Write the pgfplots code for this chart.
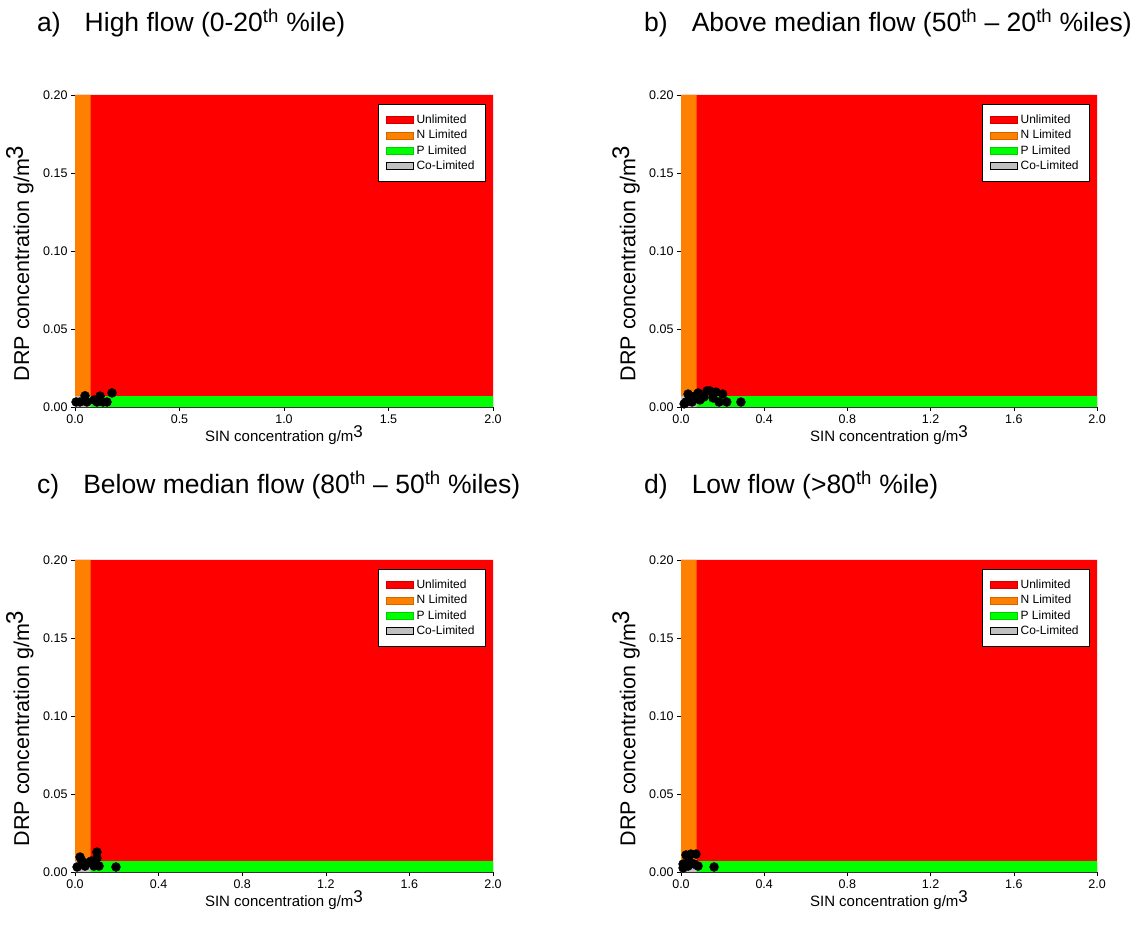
\documentclass[border=0pt]{standalone}
\usepackage{pgfplots}
\pgfplotsset{compat=1.18}
\usepackage{fontspec}
\setmainfont{Liberation Sans}
\definecolor{unl}{RGB}{255,0,0}
\definecolor{nlim}{RGB}{255,128,0}
\definecolor{plim}{RGB}{0,255,0}
\definecolor{colim}{RGB}{192,192,192}
\pgfplotsset{
  patch/.style={legend image code/.code={\draw[##1] (0pt,-3.5pt) rectangle (27pt,3.5pt);}},
  panel/.style={
    scale only axis, height=312pt,
    xmin=0, xmax=2, ymin=0, ymax=0.2,
    axis x line*=bottom, axis y line*=left,
    axis line style={-, black!80, line width=0.6pt},
    tick align=outside, major tick length=4pt,
    tick style={black, line width=0.6pt},
    ytick={0,0.05,0.1,0.15,0.2},
    /pgf/number format/assume math mode=true,
    yticklabel style={/pgf/number format/.cd, fixed, fixed zerofill, precision=2},
    xticklabel style={/pgf/number format/.cd, fixed, fixed zerofill, precision=1},
    tick label style={font=\fontsize{12.5}{14}\selectfont},
    xlabel={SIN concentration g/m\raisebox{0.55ex}{\fontsize{17}{17}\selectfont 3}},
    ylabel={DRP concentration g/m\raisebox{0.55ex}{\fontsize{24}{24}\selectfont 3}},
    xlabel style={at={(axis description cs:0.5,-0.09)}, anchor=center, font=\fontsize{15}{17}\selectfont},
    ylabel style={at={(axis description cs:-0.132,0.46)}, anchor=center, font=\fontsize{21.5}{23}\selectfont},
    legend style={at={(1,1)}, anchor=north east, xshift=-7pt, yshift=-9pt,
      font=\fontsize{12}{13}\selectfont, draw=black, line width=0.8pt,
      inner xsep=8pt, inner ysep=10pt, row sep=4.2pt,
      nodes={inner xsep=3pt, inner ysep=0.5pt}},
    legend cell align=left,
  },
}
\newcommand{\regions}{%
  \addplot[fill=unl, draw=none, forget plot] coordinates {(0,0) (2,0) (2,0.2) (0,0.2) (0,0)};
  \addplot[fill=nlim, draw=none, forget plot] coordinates {(0,0) (0.075,0) (0.075,0.2) (0,0.2) (0,0)};
  \addplot[fill=plim, draw=none, forget plot] coordinates {(0,0) (2,0) (2,0.007) (0,0.007) (0,0)};
  \addplot[fill=colim, draw=none, forget plot] coordinates {(0,0) (0.075,0) (0.075,0.007) (0,0.007) (0,0)};
  \addlegendimage{patch, fill=unl, draw=unl!80!black, line width=0.4pt}
  \addlegendentry{Unlimited}
  \addlegendimage{patch, fill=nlim, draw=nlim!80!black, line width=0.4pt}
  \addlegendentry{N Limited}
  \addlegendimage{patch, fill=plim, draw=plim!80!black, line width=0.4pt}
  \addlegendentry{P Limited}
  \addlegendimage{patch, fill=colim, draw=black, line width=0.6pt}
  \addlegendentry{Co-Limited}
}
\pgfplotstableread{
x y
0.005 0.0032
0.024 0.0032
0.048 0.0072
0.057 0.0032
0.091 0.0045
0.105 0.0032
0.120 0.0070
0.134 0.0032
0.153 0.0032
0.177 0.0090
}\dataA
\pgfplotstableread{
x y
0.015 0.0020
0.024 0.0032
0.043 0.0058
0.034 0.0083
0.053 0.0032
0.067 0.0070
0.082 0.0090
0.091 0.0045
0.110 0.0064
0.125 0.0103
0.139 0.0103
0.154 0.0058
0.168 0.0096
0.183 0.0032
0.200 0.0083
0.220 0.0032
0.288 0.0032
}\dataB
\pgfplotstableread{
x y
0.010 0.0032
0.024 0.0096
0.033 0.0070
0.048 0.0038
0.062 0.0058
0.077 0.0070
0.091 0.0038
0.105 0.0090
0.105 0.0128
0.115 0.0038
0.196 0.0032
}\dataC
\pgfplotstableread{
x y
0.010 0.0051
0.010 0.0026
0.024 0.0109
0.038 0.0077
0.048 0.0115
0.072 0.0115
0.063 0.0051
0.082 0.0038
0.034 0.0038
0.159 0.0032
}\dataD
\begin{document}
\begin{tikzpicture}
\useasboundingbox (0,0) rectangle (1142pt,928pt);
\begin{axis}[panel, width=418pt, at={(75pt,521pt)}, anchor=south west,
  xtick={0,0.5,1,1.5,2}]
  \regions
  \addplot[only marks, mark=*, mark size=4.5pt, black, forget plot] table {\dataA};
\end{axis}
\begin{axis}[panel, width=416pt, at={(681pt,521pt)}, anchor=south west,
  xtick={0,0.4,0.8,1.2,1.6,2}]
  \regions
  \addplot[only marks, mark=*, mark size=4.5pt, black, forget plot] table {\dataB};
\end{axis}
\begin{axis}[panel, width=418pt, at={(75pt,56pt)}, anchor=south west,
  xtick={0,0.4,0.8,1.2,1.6,2}]
  \regions
  \addplot[only marks, mark=*, mark size=4.5pt, black, forget plot] table {\dataC};
\end{axis}
\begin{axis}[panel, width=416pt, at={(681pt,56pt)}, anchor=south west,
  xtick={0,0.4,0.8,1.2,1.6,2}]
  \regions
  \addplot[only marks, mark=*, mark size=4.5pt, black, forget plot] table {\dataD};
\end{axis}
\tikzset{ttl/.style={anchor=base west, font=\fontsize{26.5}{30}\selectfont, inner sep=0pt}}
\node[ttl] at (37pt,896pt) {a)\hspace{24pt}High flow (0-20\textsuperscript{th} \%ile)};
\node[ttl] at (644pt,896pt) {b)\hspace{24pt}Above median flow (50\textsuperscript{th} -- 20\textsuperscript{th} \%iles)};
\node[ttl] at (37pt,434pt) {c)\hspace{24pt}Below median flow (80\textsuperscript{th} -- 50\textsuperscript{th} \%iles)};
\node[ttl] at (644pt,434pt) {d)\hspace{24pt}Low flow (>80\textsuperscript{th} \%ile)};
\end{tikzpicture}
\end{document}
